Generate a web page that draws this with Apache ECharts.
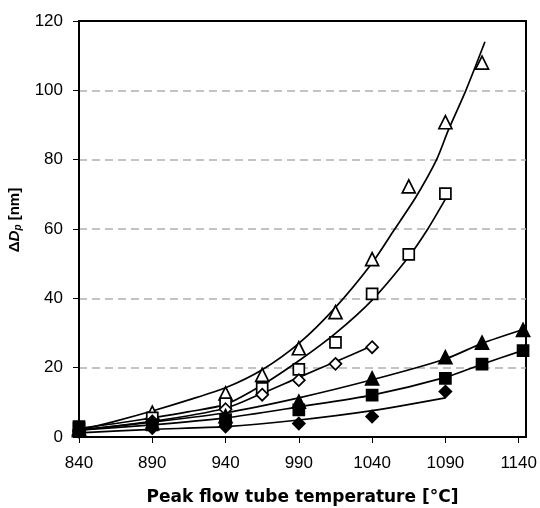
<!DOCTYPE html>
<html><head><meta charset="utf-8">
<script src="https://cdn.jsdelivr.net/npm/echarts@6/dist/echarts.min.js"></script>
<style>html,body{margin:0;padding:0;background:#fff}#c{width:540px;height:508px}</style>
</head><body><div id="c"></div>
<script>
// tick labels
const xTicks = [840, 890, 940, 990, 1040, 1090, 1140];
// measured points
const tOpenX = [840, 890, 940, 965, 990, 1015, 1040, 1065, 1090, 1115];
const tOpenY = [2.5, 7, 12.6, 17.9, 25.6, 36, 51.3, 72.3, 90.8, 108];
const sOpenX = [840, 890, 940, 965, 990, 1015, 1040, 1065, 1090];
const sOpenY = [3, 5.5, 9.6, 14, 19.5, 27.3, 41.3, 52.7, 70.2];
const dOpenX = [840, 890, 940, 965, 990, 1015, 1040];
const dOpenY = [2, 4.5, 8, 12.2, 16.4, 21.1, 25.9];
const tFillX = [840, 890, 940, 990, 1040, 1090, 1115, 1143];
const tFillY = [2, 4, 6, 10.2, 16.9, 23, 27.2, 30.9];
const sFillX = [840, 890, 940, 990, 1040, 1090, 1115, 1143];
const sFillY = [2.5, 3.5, 5, 7.8, 12.1, 16.9, 21, 24.9];
const dFillX = [840, 890, 940, 990, 1040, 1090];
const dFillY = [1.5, 2.6, 3, 3.9, 5.9, 13.1];
// fitted curves
const fTOpenX = [840, 865, 890, 915, 940, 965, 990, 1015, 1040, 1055, 1070, 1084, 1092, 1104, 1117];
const fTOpenY = [2, 4.6, 7.5, 10.7, 14.2, 19.4, 27, 37.4, 50.2, 59.7, 69.3, 80, 88.5, 100, 114];
const fSOpenX = [840, 865, 890, 915, 940, 965, 990, 1015, 1040, 1065, 1078, 1090];
const fSOpenY = [2.5, 3.9, 5.5, 7.3, 9.4, 15, 22, 29.9, 39.5, 52, 60, 68.6];
const fDOpenX = [840, 890, 940, 965, 990, 1015, 1040];
const fDOpenY = [2, 4.5, 8.3, 12.6, 17.2, 21.7, 26.3];
const fTFillX = [840, 890, 940, 990, 1040, 1090, 1115, 1143];
const fTFillY = [2, 4.3, 7, 11.3, 16.5, 22.5, 27, 31];
const fSFillX = [840, 890, 940, 990, 1040, 1090, 1115, 1143];
const fSFillY = [2, 3.5, 5.5, 8.7, 12.1, 17.2, 21, 25];
const fDFillX = [840, 890, 940, 990, 1040, 1090];
const fDFillY = [1.2, 2.2, 3, 4.9, 7.6, 11.3];

const zip = (xs, ys) => xs.map((x, i) => [x, ys[i]]);
const FONT = 'Liberation Sans, Arial, sans-serif';

function fit(xs, ys) {
  return { type: 'line', data: zip(xs, ys), smooth: 0.25, showSymbol: false,
    lineStyle: { color: '#000', width: 1.7 }, silent: true, z: 2 };
}
function pts(xs, ys, symbol, size, filled) {
  return { type: 'scatter', data: zip(xs, ys), symbol: symbol, symbolSize: size, z: 3,
    itemStyle: { color: filled ? '#000' : '#fff', borderColor: '#000', borderWidth: 1.7, opacity: 1 } };
}

const chart = echarts.init(document.getElementById('c'), null, { renderer: 'canvas' });
chart.setOption({
  animation: false,
  backgroundColor: '#fff',
  grid: { left: 79, top: 21, right: 14, bottom: 71, containLabel: false, outerBoundsMode: 'none',
    show: true, borderColor: '#000', borderWidth: 2, backgroundColor: 'transparent' },
  xAxis: {
    type: 'value', min: 840, max: 1145,
    axisLine: { show: true, lineStyle: { color: '#000', width: 2 } },
    axisTick: { show: true, length: 6, customValues: xTicks, lineStyle: { color: '#000', width: 1 } },
    axisLabel: { customValues: xTicks, color: '#000', fontSize: 17, fontFamily: FONT, margin: 18, formatter: v => String(v) },
    splitLine: { show: false },
    name: 'Peak flow tube temperature [°C]', nameLocation: 'middle', nameGap: 52,
    nameTextStyle: { color: '#000', fontSize: 17, fontWeight: 'bold', fontFamily: 'DejaVu Sans, sans-serif' }
  },
  yAxis: {
    type: 'value', min: 0, max: 120, interval: 20,
    axisLine: { show: true, lineStyle: { color: '#000', width: 2 } },
    axisTick: { show: true, length: 6, lineStyle: { color: '#000', width: 1 } },
    axisLabel: { color: '#000', fontSize: 17, fontFamily: FONT, margin: 16, formatter: v => String(v) },
    splitLine: { show: true, showMinLine: false, showMaxLine: false, lineStyle: { color: '#b0b0b0', width: 1.5, type: [8, 5] } },
    name: '{a|Δ}{b|D}{s|p}{a| [nm]}', nameLocation: 'middle', nameGap: 46, nameRotate: 90,
    nameTextStyle: {
      padding: [0, 0, 0, 18],
      rich: {
        a: { fontSize: 15, fontWeight: 'bold', fontFamily: FONT, color: '#000' },
        b: { fontSize: 15, fontWeight: 'bold', fontStyle: 'italic', fontFamily: FONT, color: '#000' },
        s: { fontSize: 10, fontWeight: 'bold', fontStyle: 'italic', fontFamily: FONT, color: '#000', padding: [7, 0, 0, 0] }
      }
    }
  },
  series: [
    fit(fTOpenX, fTOpenY), fit(fSOpenX, fSOpenY), fit(fDOpenX, fDOpenY),
    fit(fTFillX, fTFillY), fit(fSFillX, fSFillY), fit(fDFillX, fDFillY),
    pts(tOpenX, tOpenY, 'triangle', 13, false),
    pts(sOpenX, sOpenY, 'rect', 11, false),
    pts(dOpenX, dOpenY, 'diamond', 12, false),
    pts(tFillX, tFillY, 'triangle', 13, true),
    pts(sFillX, sFillY, 'rect', 11, true),
    pts(dFillX, dFillY, 'diamond', 12, true)
  ]
});
</script></body></html>
